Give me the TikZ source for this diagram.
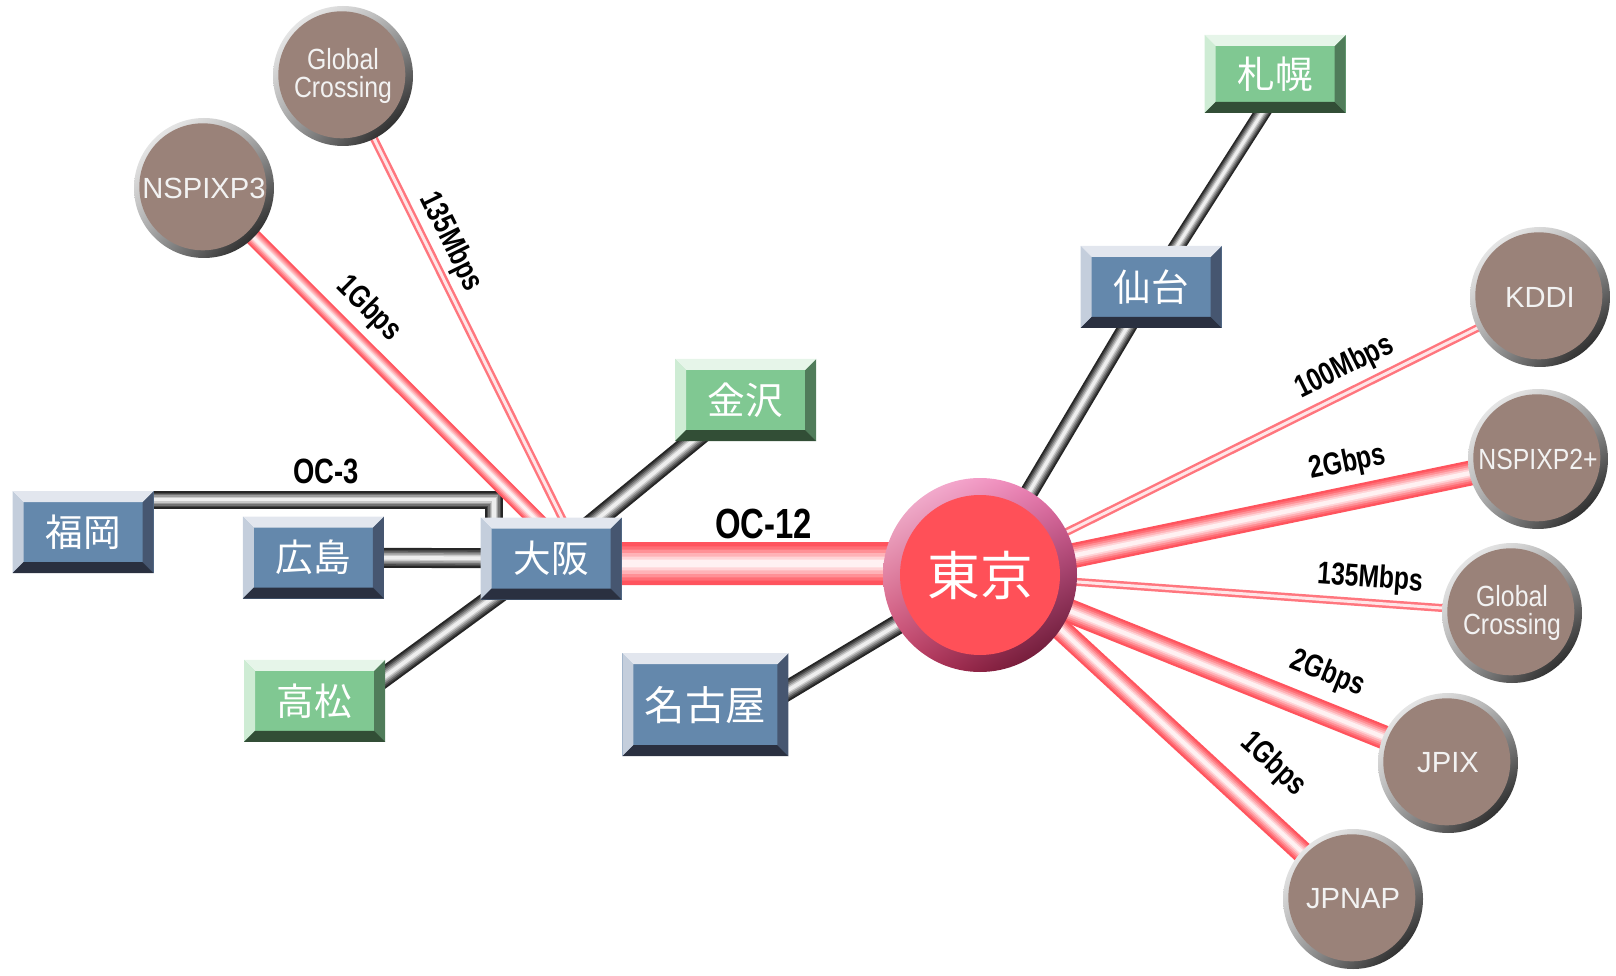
\documentclass[tikz,border=0pt]{standalone}
\usepackage{fontspec}
\setmainfont{Liberation Sans}
\newfontfamily\jpfont{Noto Sans CJK JP}
\newfontfamily\narrowfont{Liberation Sans}[FakeStretch=0.85]
\newfontfamily\ratefont{Liberation Sans}[FakeStretch=0.78]
\usetikzlibrary{backgrounds,shadings}

\definecolor{blueface}{RGB}{100,136,172}
\definecolor{bluetop}{RGB}{226,230,238}
\definecolor{blueleft}{RGB}{196,206,220}
\definecolor{bluebottom}{RGB}{42,48,64}
\definecolor{blueright}{RGB}{70,86,112}
\definecolor{greenface}{RGB}{128,200,146}
\definecolor{greentop}{RGB}{230,245,233}
\definecolor{greenleft}{RGB}{206,236,212}
\definecolor{greenbottom}{RGB}{50,78,54}
\definecolor{greenright}{RGB}{80,124,90}
\definecolor{ixface}{RGB}{154,130,121}
\definecolor{tubered}{RGB}{255,84,94}
\definecolor{tokyored}{RGB}{255,80,88}
\definecolor{ringtl}{RGB}{250,200,225}
\definecolor{ringtr}{RGB}{235,110,170}
\definecolor{ringbl}{RGB}{200,60,100}
\definecolor{ringbr}{RGB}{80,10,35}
\colorlet{tubegray}{black!85}
\newcommand{\bevw}{0.11cm}

\tikzset{box/.style={rectangle,inner sep=0pt,minimum width=1.41cm,minimum height=0.82cm,
            fill=#1face,text=white,font=\jpfont\fontsize{10.7}{10.7}\selectfont,
            path picture={
              \path (path picture bounding box.north west) coordinate (bnw)
                    (path picture bounding box.north east) coordinate (bne)
                    (path picture bounding box.south west) coordinate (bsw)
                    (path picture bounding box.south east) coordinate (bse);
              \fill[#1left] (bnw) -- ([shift={(\bevw,-\bevw)}]bnw) -- ([shift={(\bevw,\bevw)}]bsw) -- (bsw) -- cycle;
              \fill[#1right] (bne) -- ([shift={(-\bevw,-\bevw)}]bne) -- ([shift={(-\bevw,\bevw)}]bse) -- (bse) -- cycle;
              \fill[#1top] (bnw) -- (bne) -- ([shift={(-\bevw,-\bevw)}]bne) -- ([shift={(\bevw,-\bevw)}]bnw) -- cycle;
              \fill[#1bottom] (bsw) -- (bse) -- ([shift={(-\bevw,\bevw)}]bse) -- ([shift={(\bevw,\bevw)}]bsw) -- cycle;
            }},
         city/.style={box=blue},
         pref/.style={box=green},
         hub/.style={circle,inner sep=0pt,minimum size=1.94cm,text=white,
            font=\jpfont\fontsize{15}{15}\selectfont,
            path picture={
              \shade[upper left=ringtl,upper right=ringtr,lower left=ringbl,lower right=ringbr]
                (path picture bounding box.south west) rectangle (path picture bounding box.north east);
              \fill[tokyored] (path picture bounding box.center) circle[radius=0.8cm];
            }},
         ix node/.style={circle,inner sep=0pt,minimum size=1.4cm,text=white!95!black,align=center,
            font=\fontsize{8.3}{8.3}\selectfont,
            path picture={
              \shade[upper left=white,upper right=black!30,lower left=black!35,lower right=black]
                (path picture bounding box.south west) rectangle (path picture bounding box.north east);
              \fill[ixface] ([shift={(-0.012,0.012)}]path picture bounding box.center) circle[radius=0.635cm];
            }},
         tube/.style 2 args={line width=#1,draw=#2,
            postaction={draw=#2!85!white,line width=0.8*#1},
            postaction={draw=#2!65!white,line width=0.64*#1},
            postaction={draw=#2!45!white,line width=0.48*#1},
            postaction={draw=#2!25!white,line width=0.32*#1},
            postaction={draw=#2!8!white,line width=0.18*#1}},
         red tube/.style={tube={#1}{tubered}},
         gray tube/.style={tube={#1}{tubegray}},
         thin link/.style={draw=tubered!80!white,line width=0.025cm,double=tubered!15!white,double distance=0.03cm},
         rate/.style={sloped,inner sep=0pt,outer sep=0pt,text=black,font=\ratefont\bfseries\fontsize{9}{9}\selectfont},
         oc label/.style={inner sep=0pt,outer sep=0pt,text=black,font=\ratefont\bfseries\fontsize{#1}{#1}\selectfont},
}

\begin{document}
\begin{tikzpicture}

\useasboundingbox (0,0) rectangle (16.16,-9.76);

% cities
\node[city] (fukuoka) at (0.83,-5.32) {福岡};
\node[city] (hiroshima) at (3.134,-5.575) {広島};
\node[city] (osaka) at (5.51,-5.585) {大阪};
\node[pref] (takamatsu) at (3.146,-7.008) {高松};
\node[pref] (kanazawa) at (7.455,-4.0) {金沢};
\node[city, minimum width=1.66cm, minimum height=1.03cm, font=\jpfont\fontsize{11.5}{11.5}\selectfont] (nagoya) at (7.054,-7.047) {名古屋};
\node[city] (sendai) at (11.51,-2.87) {仙台};
\node[pref, minimum height=0.78cm] (sapporo) at (12.75,-0.74) {札幌};
\node[hub] (tokyo) at (9.80,-5.75) {東京};

% exchange points
\node[ix node, font=\narrowfont\fontsize{8.3}{8}\selectfont] (gc_w) at (3.43,-0.76) {Global\\Crossing};
\node[ix node] (nspixp3) at (2.04,-1.88) {NSPIXP3};
\node[ix node] (kddi) at (15.40,-2.97) {KDDI};
\node[ix node, font=\narrowfont\fontsize{8.3}{8.3}\selectfont] (nspixp2) at (15.38,-4.59) {NSPIXP2+};
\node[ix node, font=\narrowfont\fontsize{8.3}{8}\selectfont] (gc_e) at (15.12,-6.13) {Global\\Crossing};
\node[ix node] (jpix) at (14.48,-7.63) {JPIX};
\node[ix node] (jpnap) at (13.53,-8.99) {JPNAP};

\begin{scope}[on background layer]
% domestic lines
\draw[gray tube=0.18cm] ([shift={(-0.175,-0.095)}]fukuoka.north east) -| node[oc label=10, above=0.16cm, pos=0.265] {OC-3} ([xshift=-0.57cm]osaka.center);
\draw[gray tube=0.2cm] (hiroshima.center) -- (osaka.center);
\draw[gray tube=0.2cm] ([shift={(0.55,0.13)}]takamatsu.center) -- ([shift={(-0.41,-0.265)}]osaka.center);
\draw[gray tube=0.2cm] ([shift={(0.34,0.292)}]osaka.center) -- ([shift={(-0.405,-0.308)}]kanazawa.center);
\draw[gray tube=0.2cm] ([shift={(0.35,-0.14)}]nagoya.center) -- (tokyo.center);
\draw[gray tube=0.18cm] (sendai.center) -- (tokyo.center);
\draw[gray tube=0.16cm] ([xshift=0.12cm]sapporo.center) -- (sendai.center);

% upstream links
\draw[thin link] (gc_w.center) -- node[rate, above=0.08cm, pos=0.365] {135Mbps} ([xshift=0.31cm]osaka.center);
\draw[red tube=0.17cm] (nspixp3.center) -- node[rate, above=0.16cm, pos=0.386] {1Gbps} ([xshift=0.24cm]osaka.center);
\draw[red tube=0.43cm] ([yshift=-0.05cm]osaka.center) -- node[oc label=12, above=0.25cm, pos=0.496] {OC-12} ([yshift=0.115cm]tokyo.center);

\draw[thin link] (tokyo.center) -- node[rate, above=0.09cm, pos=0.67] {100Mbps} (kddi.center);
\draw[red tube=0.25cm] (tokyo.center) -- node[rate, above=0.2cm, pos=0.672] {2Gbps} (nspixp2.center);
\draw[thin link] (tokyo.center) -- node[rate, above=0.09cm, pos=0.73] {135Mbps} (gc_e.center);
\draw[red tube=0.24cm] (tokyo.center) -- node[rate, above=0.23cm, pos=0.712] {2Gbps} (jpix.center);
\draw[red tube=0.22cm] ([yshift=0.2cm]tokyo.center) -- node[rate, above=0.3cm, pos=0.705] {1Gbps} (jpnap.center);
\end{scope}

\end{tikzpicture}
\end{document}
